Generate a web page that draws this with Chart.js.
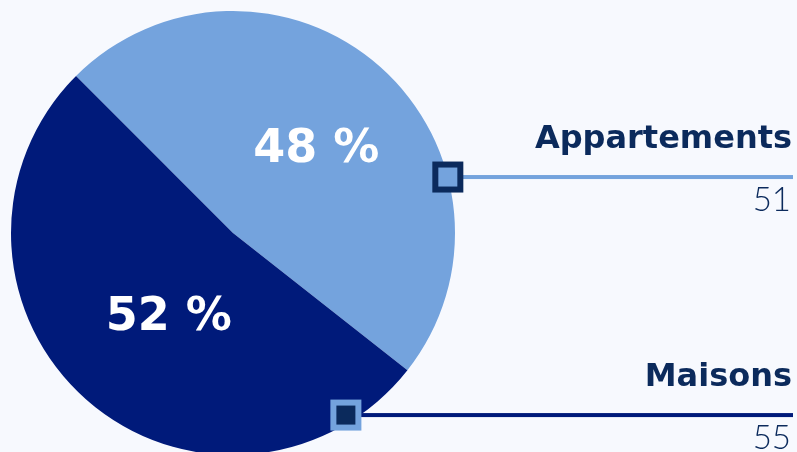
<!DOCTYPE html>
<html>
<head>
<meta charset="utf-8">
<script src="https://cdn.jsdelivr.net/npm/chart.js"></script>
<style>
  html, body { margin: 0; padding: 0; background: #f7f9fe; overflow: hidden; }
  body { width: 797px; height: 452px; }
  canvas { display: block; }
</style>
</head>
<body>
<canvas id="pie" width="797" height="460"></canvas>
<script>
// data
const categories = ['Appartements', 'Maisons'];
const counts = [51, 55];
const percentLabels = ['48 %', '52 %'];
const sliceColors = ['#74a3dd', '#001a7a'];

const navy = '#0b2a5c';

// where the label / marker sit around the pie (degrees, radius fraction)
const labelSpots = [{ angle: -45, r: 0.53 }, { angle: 127, r: 0.48 }];
const markerSpots = [{ angle: -14.6, r: 1.0 }, { angle: 58.2, r: 0.965 }];
const markerStyle = [
  { fill: '#74a3dd', border: navy, line: '#74a3dd' },
  { fill: navy, border: '#74a3dd', line: '#001a7a' }
];

const rad = d => d * Math.PI / 180;

const pieDecor = {
  id: 'pieDecor',
  afterDatasetsDraw(chart) {
    const ctx = chart.ctx;
    const arcs = chart.getDatasetMeta(0).data;
    const W = chart.width;
    ctx.save();
    arcs.forEach((arc, i) => {
      const { x, y, outerRadius } = arc.getProps(['x', 'y', 'outerRadius'], true);

      // percent label inside the slice
      const ls = labelSpots[i];
      const lx = x + Math.cos(rad(ls.angle)) * outerRadius * ls.r;
      const ly = y + Math.sin(rad(ls.angle)) * outerRadius * ls.r;
      ctx.fillStyle = '#ffffff';
      ctx.font = 'bold 46px "DejaVu Sans", sans-serif';
      ctx.textAlign = 'center';
      ctx.textBaseline = 'middle';
      ctx.fillText(percentLabels[i], lx, ly);

      // marker + leader line
      const ms = markerSpots[i];
      const st = markerStyle[i];
      const mx = x + Math.cos(rad(ms.angle)) * outerRadius * ms.r;
      const my = y + Math.sin(rad(ms.angle)) * outerRadius * ms.r;
      ctx.fillStyle = st.line;
      ctx.fillRect(mx, my - 2, (W - 4) - mx, 4);
      ctx.fillStyle = st.border;
      ctx.fillRect(mx - 15.5, my - 15.5, 31, 31);
      ctx.fillStyle = st.fill;
      ctx.fillRect(mx - 9.5, my - 9.5, 19, 19);

      // category name above, count below the line
      ctx.textAlign = 'right';
      ctx.textBaseline = 'alphabetic';
      ctx.fillStyle = navy;
      ctx.font = 'bold 32px "DejaVu Sans", sans-serif';
      ctx.fillText(categories[i], W - 5, my - 29);
      ctx.font = '300 33px Lato, "Noto Sans", sans-serif';
      ctx.fillText(String(counts[i]), W - 6, my + 34);
    });
    ctx.restore();
  }
};

new Chart(document.getElementById('pie'), {
  type: 'pie',
  data: {
    labels: categories,
    datasets: [{
      data: counts,
      backgroundColor: sliceColors,
      borderWidth: 0,
      hoverOffset: 0
    }]
  },
  options: {
    responsive: false,
    animation: false,
    rotation: -45,
    layout: { padding: { left: 11, top: 11, right: 342, bottom: 5 } },
    plugins: {
      legend: { display: false },
      tooltip: { enabled: false }
    },
    events: []
  },
  plugins: [pieDecor]
});
</script>
</body>
</html>
